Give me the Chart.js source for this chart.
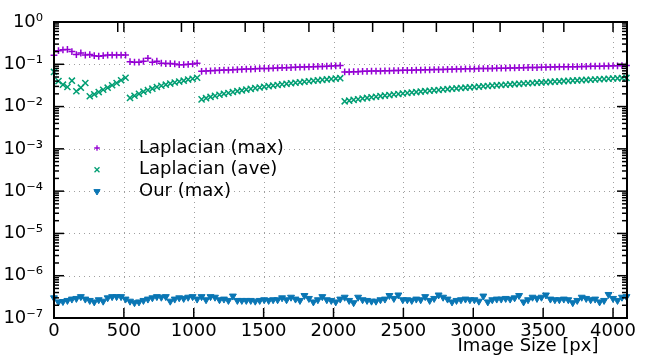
<!DOCTYPE html>
<html>
<head>
<meta charset="utf-8">
<script src="https://cdn.jsdelivr.net/npm/chart.js@4.4.1/dist/chart.umd.min.js"></script>
<style>
  html, body { margin: 0; padding: 0; background: #fff; }
  #plot { display: block; }
</style>
</head>
<body>
<canvas id="plot" width="645" height="356"></canvas>
<script>
// image sizes in px (x axis)
const imageSizes = [
  0, 32, 64, 96, 128, 160, 192, 224, 256, 288, 320, 352, 384, 416, 448, 480,
  512, 544, 576, 608, 640, 672, 704, 736, 768, 800, 832, 864, 896, 928, 960, 992,
  1024, 1056, 1088, 1120, 1152, 1184, 1216, 1248, 1280, 1312, 1344, 1376, 1408, 1440, 1472, 1504,
  1536, 1568, 1600, 1632, 1664, 1696, 1728, 1760, 1792, 1824, 1856, 1888, 1920, 1952, 1984, 2016,
  2048, 2080, 2112, 2144, 2176, 2208, 2240, 2272, 2304, 2336, 2368, 2400, 2432, 2464, 2496, 2528,
  2560, 2592, 2624, 2656, 2688, 2720, 2752, 2784, 2816, 2848, 2880, 2912, 2944, 2976, 3008, 3040,
  3072, 3104, 3136, 3168, 3200, 3232, 3264, 3296, 3328, 3360, 3392, 3424, 3456, 3488, 3520, 3552,
  3584, 3616, 3648, 3680, 3712, 3744, 3776, 3808, 3840, 3872, 3904, 3936, 3968, 4000, 4032, 4064,
  4096
];

const laplacianMax = [
  0.163, 0.21, 0.22, 0.225, 0.2, 0.17, 0.185, 0.165, 0.17, 0.16, 0.155, 0.16, 0.165, 0.165, 0.165, 0.165,
  0.165, 0.115, 0.112, 0.112, 0.118, 0.138, 0.112, 0.118, 0.106, 0.104, 0.104, 0.102, 0.098, 0.098, 0.1, 0.102,
  0.106, 0.068, 0.069, 0.070, 0.071, 0.072, 0.073, 0.073, 0.074, 0.075, 0.076, 0.077, 0.077, 0.078, 0.079, 0.080,
  0.080, 0.081, 0.082, 0.083, 0.083, 0.084, 0.085, 0.086, 0.086, 0.087, 0.088, 0.089, 0.089, 0.090, 0.091, 0.092,
  0.093, 0.066, 0.066, 0.067, 0.067, 0.068, 0.068, 0.069, 0.069, 0.069, 0.070, 0.070, 0.071, 0.071, 0.072, 0.072,
  0.072, 0.073, 0.073, 0.074, 0.074, 0.075, 0.075, 0.075, 0.076, 0.076, 0.077, 0.077, 0.078, 0.078, 0.078, 0.079,
  0.079, 0.080, 0.080, 0.081, 0.081, 0.081, 0.082, 0.082, 0.083, 0.083, 0.084, 0.084, 0.084, 0.085, 0.085, 0.086,
  0.086, 0.087, 0.087, 0.087, 0.088, 0.088, 0.089, 0.089, 0.090, 0.090, 0.090, 0.091, 0.091, 0.092, 0.092, 0.093,
  0.093
];

const laplacianAve = [
  0.066, 0.04, 0.033, 0.029, 0.041, 0.023, 0.028, 0.036, 0.0175, 0.0195, 0.022, 0.025, 0.028, 0.032, 0.036, 0.042,
  0.048, 0.016, 0.018, 0.020, 0.0225, 0.0245, 0.0265, 0.029, 0.031, 0.033, 0.035, 0.037, 0.039, 0.041, 0.0435, 0.0455,
  0.048, 0.0148, 0.0158, 0.0169, 0.0179, 0.019, 0.020, 0.021, 0.0221, 0.0231, 0.0241, 0.0252, 0.0262, 0.0273, 0.0283, 0.0293,
  0.0304, 0.0314, 0.0324, 0.0335, 0.0345, 0.0356, 0.0366, 0.0376, 0.0387, 0.0397, 0.0407, 0.0418, 0.0428, 0.0439, 0.0449, 0.0459,
  0.047, 0.0133, 0.0138, 0.0144, 0.0149, 0.0155, 0.0160, 0.0166, 0.0171, 0.0177, 0.0182, 0.0187, 0.0193, 0.0198, 0.0204, 0.0209,
  0.0215, 0.0220, 0.0226, 0.0231, 0.0236, 0.0242, 0.0247, 0.0253, 0.0258, 0.0264, 0.0269, 0.0275, 0.0280, 0.0285, 0.0291, 0.0296,
  0.0302, 0.0307, 0.0313, 0.0318, 0.0324, 0.0329, 0.0334, 0.0340, 0.0345, 0.0351, 0.0356, 0.0362, 0.0367, 0.0373, 0.0378, 0.0383,
  0.0389, 0.0394, 0.0400, 0.0405, 0.0411, 0.0416, 0.0422, 0.0427, 0.0432, 0.0438, 0.0443, 0.0449, 0.0454, 0.0460, 0.0465, 0.0471,
  0.0476
];

const ourMax = [
  3.0e-7, 2.4e-7, 2.45e-7, 2.6e-7, 2.8e-7, 2.9e-7, 3.2e-7, 2.8e-7, 2.6e-7, 2.4e-7, 2.7e-7, 2.5e-7, 3.0e-7, 3.2e-7, 3.2e-7, 3.2e-7,
  2.8e-7, 2.5e-7, 2.3e-7, 2.4e-7, 2.6e-7, 2.8e-7, 3.0e-7, 3.2e-7, 3.1e-7, 3.2e-7, 2.5e-7, 2.8e-7, 3.0e-7, 2.9e-7, 3.1e-7, 3.2e-7,
  2.8e-7, 3.2e-7, 2.7e-7, 3.2e-7, 3.1e-7, 2.7e-7, 2.8e-7, 2.6e-7, 3.3e-7, 2.6e-7, 2.6e-7, 2.6e-7, 2.6e-7, 2.5e-7, 2.6e-7, 2.7e-7,
  2.6e-7, 2.7e-7, 2.7e-7, 3.0e-7, 2.7e-7, 3.1e-7, 2.8e-7, 2.6e-7, 3.4e-7, 2.9e-7, 2.4e-7, 2.7e-7, 3.2e-7, 2.7e-7, 2.6e-7, 2.4e-7,
  2.8e-7, 3.1e-7, 2.6e-7, 2.3e-7, 3.1e-7, 2.7e-7, 2.6e-7, 2.5e-7, 2.5e-7, 2.7e-7, 2.8e-7, 3.4e-7, 2.9e-7, 3.5e-7, 2.7e-7, 2.7e-7,
  2.6e-7, 2.8e-7, 2.7e-7, 3.2e-7, 2.6e-7, 2.9e-7, 3.5e-7, 3.1e-7, 2.8e-7, 2.4e-7, 2.6e-7, 2.7e-7, 2.8e-7, 2.7e-7, 2.7e-7, 2.5e-7,
  3.3e-7, 2.4e-7, 2.7e-7, 2.8e-7, 2.8e-7, 2.9e-7, 2.8e-7, 3.0e-7, 3.4e-7, 2.4e-7, 2.7e-7, 3.1e-7, 2.9e-7, 3.1e-7, 3.5e-7, 2.8e-7,
  2.7e-7, 2.7e-7, 2.8e-7, 2.7e-7, 2.3e-7, 2.6e-7, 3.1e-7, 2.9e-7, 2.7e-7, 2.8e-7, 2.4e-7, 2.6e-7, 3.6e-7, 2.9e-7, 2.6e-7, 3.1e-7,
  3.2e-7
];

const seriesNames = ['Laplacian (max)', 'Laplacian (ave)', 'Our (max)'];
const xTickValues = [0, 500, 1000, 1500, 2000, 2500, 3000, 3500, 4000];
const xTickLabels = ['0', '500', '1000', '1500', '2000', '2500', '3000', '3500', '4000'];
const xTopTickValues = [456, 912, 1368, 1824, 2280, 2736, 3192, 3648];
const yTickValues = [1e-7, 1e-6, 1e-5, 1e-4, 1e-3, 1e-2, 1e-1, 1];
const yTickLabels = ['10\u207B\u2077', '10\u207B\u2076', '10\u207B\u2075', '10\u207B\u2074', '10\u207B\u00B3', '10\u207B\u00B2', '10\u207B\u00B9', '10\u2070'];

const FONT = 'DejaVu Sans';

function toPoints(ys) {
  return imageSizes.map((x, i) => ({ x: x, y: ys[i] }));
}

// gnuplot-like frame: dotted grid, inward ticks, box border, legend, x label
const frame = {
  id: 'frame',
  beforeDatasetsDraw(chart) {
    const { ctx, chartArea: a } = chart;
    const x = chart.scales.x, y = chart.scales.y;
    ctx.save();
    ctx.strokeStyle = '#a0a0a0';
    ctx.lineWidth = 1;
    ctx.setLineDash([1, 4]);
    xTickValues.forEach(v => {
      if (v <= x.min || v >= x.max) return;
      const px = Math.round(x.getPixelForValue(v)) + 0.5;
      ctx.beginPath(); ctx.moveTo(px, a.top); ctx.lineTo(px, a.bottom); ctx.stroke();
    });
    yTickValues.forEach(v => {
      if (v <= y.min || v >= y.max) return;
      const py = Math.round(y.getPixelForValue(v)) + 0.5;
      ctx.beginPath(); ctx.moveTo(a.left, py); ctx.lineTo(a.right, py); ctx.stroke();
    });
    ctx.restore();
  },
  afterDatasetsDraw(chart) {
    const { ctx, chartArea: a } = chart;
    const x = chart.scales.x, y = chart.scales.y;
    ctx.save();
    ctx.strokeStyle = '#000';
    ctx.lineWidth = 1.5;
    const line = (x0, y0, x1, y1) => { ctx.beginPath(); ctx.moveTo(x0, y0); ctx.lineTo(x1, y1); ctx.stroke(); };

    xTickValues.forEach(v => {
      const px = x.getPixelForValue(v);
      line(px, a.bottom, px, a.bottom - 10);
      line(px, a.top, px, a.top + 10);
    });
    xTopTickValues.forEach(v => {
      const px = x.getPixelForValue(v);
      line(px, a.top, px, a.top + 10);
    });
    yTickValues.forEach((v, i) => {
      const py = y.getPixelForValue(v);
      line(a.left, py, a.left + 10, py);
      line(a.right, py, a.right - 10, py);
      if (i < yTickValues.length - 1) {
        for (let m = 2; m <= 9; m++) {
          const pm = y.getPixelForValue(v * m);
          line(a.left, pm, a.left + 5, pm);
          line(a.right, pm, a.right - 5, pm);
        }
      }
    });

    ctx.lineWidth = 2;
    ctx.strokeRect(a.left, a.top, a.right - a.left, a.bottom - a.top);

    // legend
    ctx.font = '18px "' + FONT + '"';
    ctx.textBaseline = 'middle';
    ctx.textAlign = 'left';
    chart.data.datasets.forEach((ds, i) => {
      const ly = 148 + i * 21.7;
      ctx.fillStyle = ds.backgroundColor;
      ctx.strokeStyle = ds.borderColor;
      ctx.lineWidth = ds.legendBorder;
      Chart.helpers.drawPoint(ctx, {
        pointStyle: ds.pointStyle,
        radius: ds.legendRadius,
        rotation: ds.pointRotation || 0,
        borderWidth: ds.legendBorder
      }, 97, ly);
      ctx.fillStyle = '#000';
      ctx.fillText(ds.label, 139, ly);
    });

    // x axis label
    ctx.textBaseline = 'alphabetic';
    ctx.textAlign = 'center';
    ctx.fillText('Image Size [px]', 528, 351);
    ctx.restore();
  }
};

const ctx = document.getElementById('plot').getContext('2d');
new Chart(ctx, {
  type: 'scatter',
  data: {
    datasets: [
      {
        label: seriesNames[0],
        data: toPoints(laplacianMax),
        pointStyle: 'cross',
        pointRadius: 3.4,
        pointBorderWidth: 1.5,
        borderColor: '#9400d3',
        backgroundColor: '#9400d3',
        legendRadius: 2.8,
        legendBorder: 1.3
      },
      {
        label: seriesNames[1],
        data: toPoints(laplacianAve),
        pointStyle: 'crossRot',
        pointRadius: 4.3,
        pointBorderWidth: 1.5,
        borderColor: '#009e73',
        backgroundColor: '#009e73',
        legendRadius: 3.5,
        legendBorder: 1.3
      },
      {
        label: seriesNames[2],
        data: toPoints(ourMax),
        pointStyle: 'triangle',
        pointRotation: 180,
        pointRadius: 4,
        pointBorderWidth: 1,
        borderColor: '#0a76b4',
        backgroundColor: '#0a76b4',
        legendRadius: 3.6,
        legendBorder: 1
      }
    ]
  },
  options: {
    responsive: false,
    animation: false,
    devicePixelRatio: 1,
    clip: false,
    layout: { padding: { top: 22, right: 18, left: 0, bottom: 0 } },
    plugins: {
      legend: { display: false },
      tooltip: { enabled: false }
    },
    scales: {
      x: {
        type: 'linear',
        min: 0,
        max: 4100,
        afterBuildTicks: s => { s.ticks = xTickValues.map(v => ({ value: v })); },
        afterFit: s => { s.height = 38; },
        grid: { display: false, drawTicks: false, tickLength: 0 },
        border: { display: false },
        ticks: {
          color: '#000',
          font: { family: FONT, size: 18 },
          padding: 3,
          maxRotation: 0,
          autoSkip: false,
          callback: (v, i) => xTickLabels[i]
        }
      },
      y: {
        type: 'logarithmic',
        min: 1e-7,
        max: 1,
        afterBuildTicks: s => { s.ticks = yTickValues.map(v => ({ value: v })); },
        afterFit: s => { s.width = 54; },
        grid: { display: false, drawTicks: false, tickLength: 0 },
        border: { display: false },
        ticks: {
          color: '#000',
          font: { family: FONT, size: 18 },
          padding: 11,
          autoSkip: false,
          callback: (v, i) => yTickLabels[i]
        }
      }
    }
  },
  plugins: [frame]
});
</script>
</body>
</html>
